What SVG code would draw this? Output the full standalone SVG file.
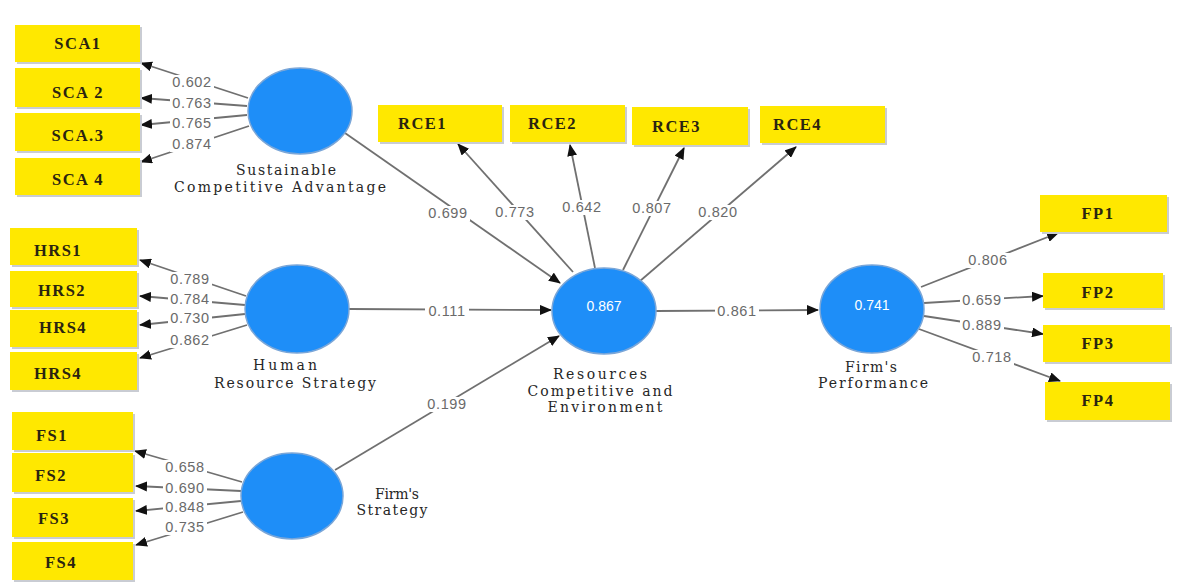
<svg xmlns="http://www.w3.org/2000/svg" width="1184" height="584" viewBox="0 0 1184 584">
<defs>
<marker id="ah" markerUnits="userSpaceOnUse" markerWidth="12" markerHeight="10" refX="11" refY="5" orient="auto">
<path d="M0,0 L12,5 L0,10 Z" fill="#111"/>
</marker>
<style>
.bx{fill:#FFE800;}
.sh{fill:#c9ccd3;}
.bt{font-family:"Liberation Serif",serif;font-weight:bold;font-size:16.5px;letter-spacing:1.5px;fill:#2a2410;}
.ln{stroke:#707070;stroke-width:1.8;fill:none;marker-end:url(#ah);}
.v{font-family:"Liberation Sans",Arial,sans-serif;font-size:14.5px;letter-spacing:0.6px;fill:#6a6a6a;text-anchor:middle;}
.lg{fill:#fff;}
.c{fill:#1E8EF8;stroke:#7aa6d8;stroke-width:1.5;}
.cv{font-family:"Liberation Sans",Arial,sans-serif;font-size:14px;fill:#fff;text-anchor:middle;}
.lb{font-family:"DejaVu Serif","Liberation Serif",serif;font-size:14px;fill:#262626;text-anchor:middle;}
</style>
</defs>
<rect width="1184" height="584" fill="#fff"/>

<g id="connectors">
<!-- SCA indicators -->
<line class="ln" x1="248" y1="98" x2="141" y2="63"/>
<line class="ln" x1="247" y1="106" x2="141" y2="98"/>
<line class="ln" x1="247" y1="115" x2="141" y2="125"/>
<line class="ln" x1="249" y1="126" x2="141" y2="162"/>
<!-- HRS indicators -->
<line class="ln" x1="246" y1="296" x2="140" y2="260"/>
<line class="ln" x1="245" y1="305" x2="140" y2="296"/>
<line class="ln" x1="245" y1="314" x2="140" y2="325"/>
<line class="ln" x1="247" y1="325" x2="140" y2="358"/>
<!-- FS indicators -->
<line class="ln" x1="242" y1="482" x2="135" y2="451"/>
<line class="ln" x1="241" y1="491" x2="136" y2="486"/>
<line class="ln" x1="241" y1="501" x2="136" y2="511"/>
<line class="ln" x1="243" y1="512" x2="136" y2="545"/>
<!-- structural -->
<line class="ln" x1="345" y1="133" x2="560" y2="283"/>
<line class="ln" x1="349" y1="309" x2="551" y2="310"/>
<line class="ln" x1="335" y1="470" x2="559" y2="336"/>
<line class="ln" x1="656" y1="311" x2="818" y2="310"/>
<!-- RCE indicators -->
<line class="ln" x1="573" y1="272" x2="458" y2="144"/>
<line class="ln" x1="595" y1="268" x2="570" y2="145"/>
<line class="ln" x1="623" y1="270" x2="684" y2="148"/>
<line class="ln" x1="640" y1="281" x2="796" y2="147"/>
<!-- FP indicators -->
<line class="ln" x1="921" y1="287" x2="1058" y2="233"/>
<line class="ln" x1="924" y1="303" x2="1043" y2="296"/>
<line class="ln" x1="924" y1="316" x2="1043" y2="334"/>
<line class="ln" x1="919" y1="329" x2="1060" y2="381"/>

<!-- label backgrounds -->
<rect class="lg" x="170" y="75" width="44" height="15"/>
<rect class="lg" x="170" y="96" width="44" height="15"/>
<rect class="lg" x="170" y="116" width="44" height="15"/>
<rect class="lg" x="170" y="137" width="44" height="15"/>
<rect class="lg" x="168" y="272" width="44" height="15"/>
<rect class="lg" x="168" y="292" width="44" height="15"/>
<rect class="lg" x="168" y="311" width="44" height="15"/>
<rect class="lg" x="168" y="333" width="44" height="15"/>
<rect class="lg" x="163" y="460" width="44" height="15"/>
<rect class="lg" x="163" y="481" width="44" height="15"/>
<rect class="lg" x="163" y="500" width="44" height="15"/>
<rect class="lg" x="163" y="520" width="44" height="15"/>
<rect class="lg" x="426" y="206" width="44" height="15"/>
<rect class="lg" x="425" y="304" width="44" height="15"/>
<rect class="lg" x="425" y="397" width="44" height="15"/>
<rect class="lg" x="715" y="304" width="44" height="15"/>
<rect class="lg" x="493" y="205" width="44" height="15"/>
<rect class="lg" x="560" y="200" width="44" height="15"/>
<rect class="lg" x="630" y="201" width="44" height="15"/>
<rect class="lg" x="696" y="205" width="44" height="15"/>
<rect class="lg" x="966" y="253" width="44" height="15"/>
<rect class="lg" x="960" y="293" width="44" height="15"/>
<rect class="lg" x="960" y="318" width="44" height="15"/>
<rect class="lg" x="970" y="350" width="44" height="15"/>

<!-- labels -->
<text class="v" x="192" y="87">0.602</text>
<text class="v" x="192" y="108">0.763</text>
<text class="v" x="192" y="128">0.765</text>
<text class="v" x="192" y="149">0.874</text>
<text class="v" x="190" y="284">0.789</text>
<text class="v" x="190" y="304">0.784</text>
<text class="v" x="190" y="323">0.730</text>
<text class="v" x="190" y="345">0.862</text>
<text class="v" x="185" y="472">0.658</text>
<text class="v" x="185" y="493">0.690</text>
<text class="v" x="185" y="512">0.848</text>
<text class="v" x="185" y="532">0.735</text>
<text class="v" x="448" y="218">0.699</text>
<text class="v" x="447" y="316">0.111</text>
<text class="v" x="447" y="409">0.199</text>
<text class="v" x="737" y="316">0.861</text>
<text class="v" x="515" y="217">0.773</text>
<text class="v" x="582" y="212">0.642</text>
<text class="v" x="652" y="213">0.807</text>
<text class="v" x="718" y="217">0.820</text>
<text class="v" x="988" y="265">0.806</text>
<text class="v" x="982" y="305">0.659</text>
<text class="v" x="982" y="330">0.889</text>
<text class="v" x="992" y="362">0.718</text>
</g>

<g id="SCA1"><rect class="sh" x="17" y="27" width="125" height="37"/><rect class="bx" x="15" y="25" width="125" height="37"/><text class="bt" x="78" y="49" text-anchor="middle">SCA1</text></g>
<g id="SCA2"><rect class="sh" x="17" y="70" width="125" height="39"/><rect class="bx" x="15" y="68" width="125" height="39"/><text class="bt" x="78" y="98" text-anchor="middle">SCA 2</text></g>
<g id="SCA3"><rect class="sh" x="17" y="115" width="125" height="38"/><rect class="bx" x="15" y="113" width="125" height="38"/><text class="bt" x="78" y="141" text-anchor="middle">SCA.3</text></g>
<g id="SCA4"><rect class="sh" x="17" y="160" width="125" height="37"/><rect class="bx" x="15" y="158" width="125" height="37"/><text class="bt" x="78" y="185" text-anchor="middle">SCA 4</text></g>

<g id="HRS1"><rect class="sh" x="12" y="230" width="127" height="37"/><rect class="bx" x="10" y="228" width="127" height="37"/><text class="bt" x="58" y="256" text-anchor="middle">HRS1</text></g>
<g id="HRS2"><rect class="sh" x="12" y="273" width="127" height="36"/><rect class="bx" x="10" y="271" width="127" height="36"/><text class="bt" x="62" y="296" text-anchor="middle">HRS2</text></g>
<g id="HRS4a"><rect class="sh" x="12" y="312" width="127" height="37"/><rect class="bx" x="10" y="310" width="127" height="37"/><text class="bt" x="63" y="333" text-anchor="middle">HRS4</text></g>
<g id="HRS4b"><rect class="sh" x="12" y="354" width="127" height="38"/><rect class="bx" x="10" y="352" width="127" height="38"/><text class="bt" x="58" y="379" text-anchor="middle">HRS4</text></g>

<g id="FS1"><rect class="sh" x="14" y="414" width="121" height="38"/><rect class="bx" x="12" y="412" width="121" height="38"/><text class="bt" x="52" y="441" text-anchor="middle">FS1</text></g>
<g id="FS2"><rect class="sh" x="14" y="455" width="121" height="39"/><rect class="bx" x="12" y="453" width="121" height="39"/><text class="bt" x="51" y="481" text-anchor="middle">FS2</text></g>
<g id="FS3"><rect class="sh" x="14" y="500" width="121" height="39"/><rect class="bx" x="12" y="498" width="121" height="39"/><text class="bt" x="54" y="524" text-anchor="middle">FS3</text></g>
<g id="FS4"><rect class="sh" x="14" y="544" width="121" height="38"/><rect class="bx" x="12" y="542" width="121" height="38"/><text class="bt" x="61" y="568" text-anchor="middle">FS4</text></g>

<g id="RCE1"><rect class="sh" x="380" y="107" width="124" height="37"/><rect class="bx" x="378" y="105" width="124" height="37"/><text class="bt" x="398" y="129">RCE1</text></g>
<g id="RCE2"><rect class="sh" x="512" y="107" width="115" height="37"/><rect class="bx" x="510" y="105" width="115" height="37"/><text class="bt" x="528" y="129">RCE2</text></g>
<g id="RCE3"><rect class="sh" x="634" y="109" width="116" height="38"/><rect class="bx" x="632" y="107" width="116" height="38"/><text class="bt" x="652" y="132">RCE3</text></g>
<g id="RCE4"><rect class="sh" x="762" y="108" width="125" height="37"/><rect class="bx" x="760" y="106" width="125" height="37"/><text class="bt" x="773" y="130">RCE4</text></g>

<g id="FP1"><rect class="sh" x="1042" y="197" width="127" height="37"/><rect class="bx" x="1040" y="195" width="127" height="37"/><text class="bt" x="1098" y="219" text-anchor="middle">FP1</text></g>
<g id="FP2"><rect class="sh" x="1045" y="275" width="120" height="35"/><rect class="bx" x="1043" y="273" width="120" height="35"/><text class="bt" x="1098" y="298" text-anchor="middle">FP2</text></g>
<g id="FP3"><rect class="sh" x="1045" y="327" width="127" height="37"/><rect class="bx" x="1043" y="325" width="127" height="37"/><text class="bt" x="1098" y="349" text-anchor="middle">FP3</text></g>
<g id="FP4"><rect class="sh" x="1047" y="384" width="125" height="38"/><rect class="bx" x="1045" y="382" width="125" height="38"/><text class="bt" x="1098" y="406" text-anchor="middle">FP4</text></g>

<g id="SCA">
<ellipse class="c" cx="300" cy="111" rx="52" ry="43"/>
<text class="lb" x="286" y="175" textLength="100" lengthAdjust="spacing">Sustainable</text>
<text class="lb" x="280" y="192" textLength="212" lengthAdjust="spacing">Competitive Advantage</text>
</g>
<g id="HRS">
<ellipse class="c" cx="297" cy="309" rx="52" ry="44"/>
<text class="lb" x="285" y="370" textLength="64" lengthAdjust="spacing">Human</text>
<text class="lb" x="295" y="388" textLength="162" lengthAdjust="spacing">Resource Strategy</text>
</g>
<g id="FS">
<ellipse class="c" cx="292" cy="496" rx="51" ry="43"/>
<text class="lb" x="397" y="499" textLength="44" lengthAdjust="spacing">Firm's</text>
<text class="lb" x="392" y="515" textLength="71" lengthAdjust="spacing">Strategy</text>
</g>
<g id="RCE">
<ellipse class="c" cx="604" cy="311" rx="52" ry="43"/>
<text class="cv" x="604" y="311">0.867</text>
<text class="lb" x="600" y="379" textLength="94" lengthAdjust="spacing">Resources</text>
<text class="lb" x="600" y="396" textLength="145" lengthAdjust="spacing">Competitive and</text>
<text class="lb" x="605" y="412" textLength="115" lengthAdjust="spacing">Environment</text>
</g>
<g id="FP">
<ellipse class="c" cx="872" cy="309" rx="52" ry="44"/>
<text class="cv" x="872" y="310">0.741</text>
<text class="lb" x="871" y="372" textLength="52" lengthAdjust="spacing">Firm's</text>
<text class="lb" x="873" y="388" textLength="110" lengthAdjust="spacing">Performance</text>
</g>
</svg>
